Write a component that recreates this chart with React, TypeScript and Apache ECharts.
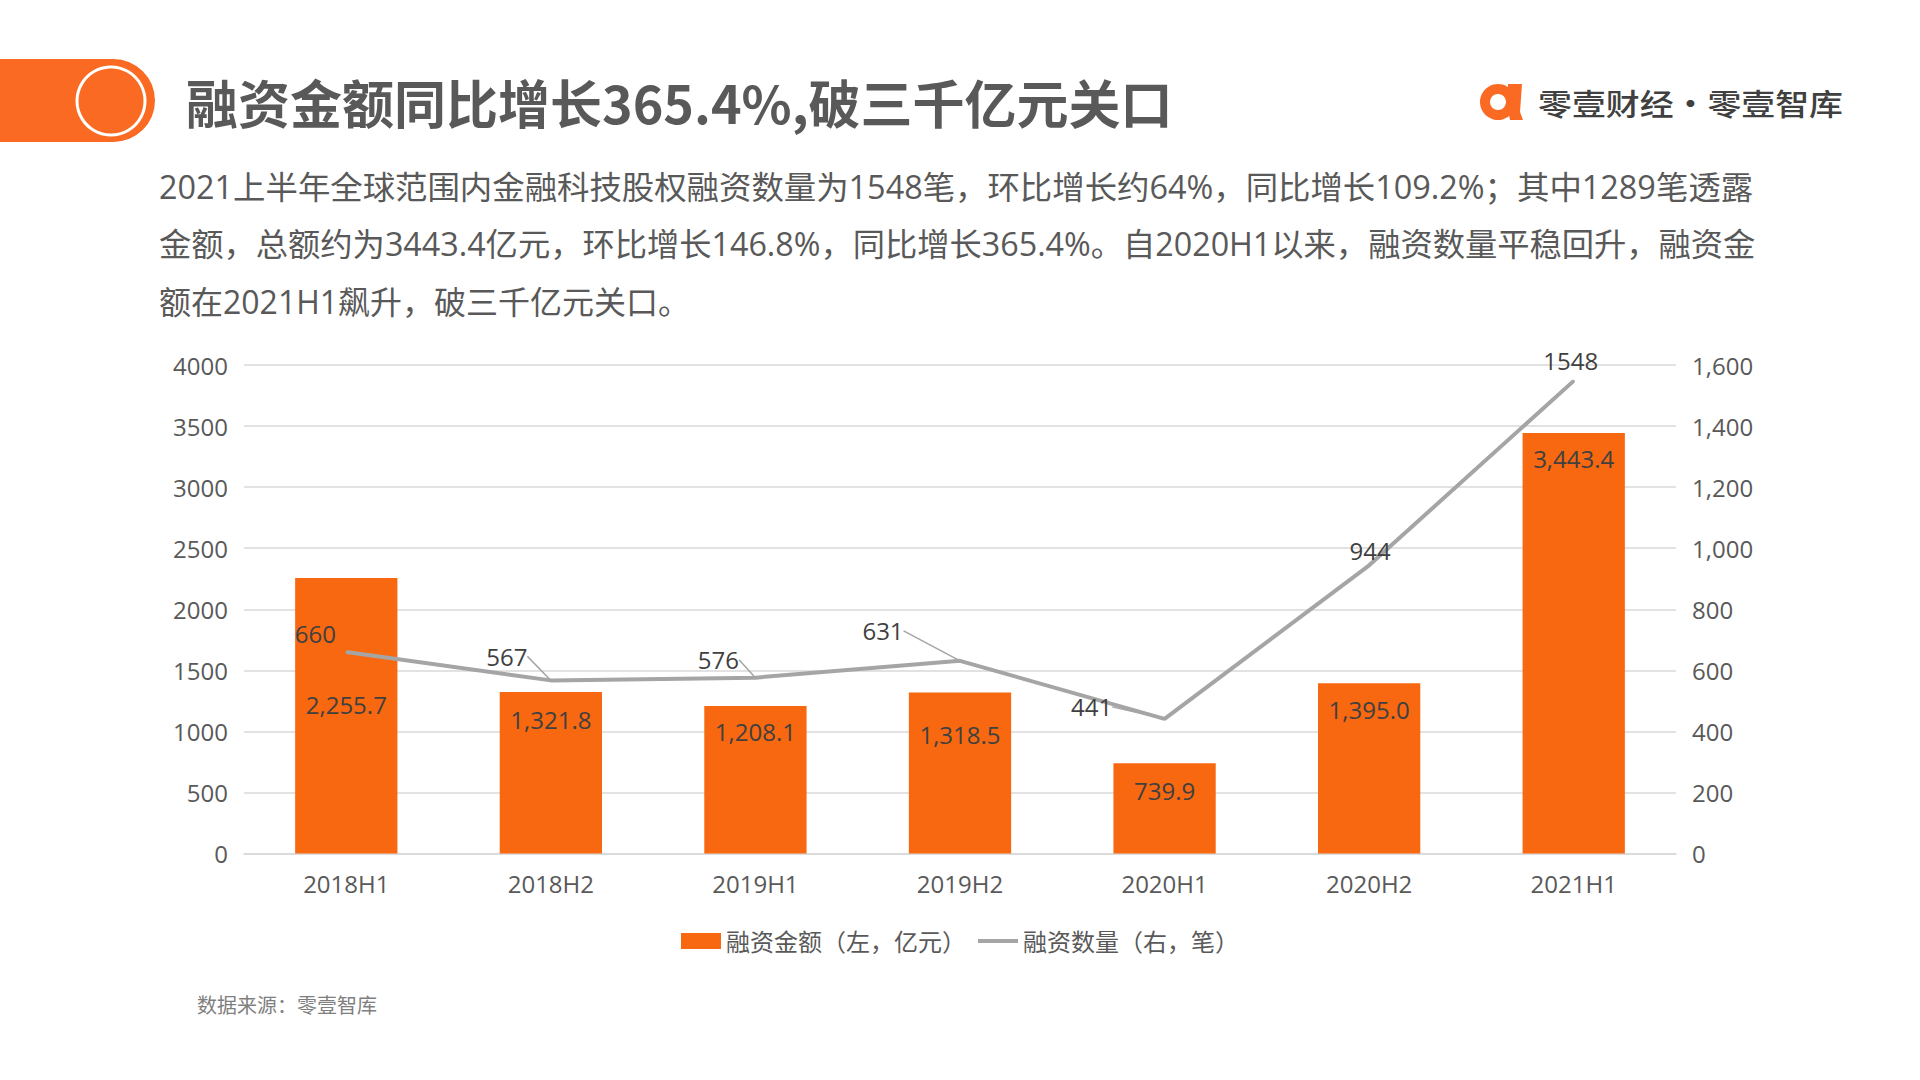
import React, { useEffect, useRef } from "react";
import * as echarts from "echarts";

// ---- data ----
const categories = ["2018H1", "2018H2", "2019H1", "2019H2", "2020H1", "2020H2", "2021H1"];
const amountValues = [2255.7, 1321.8, 1208.1, 1318.5, 739.9, 1395.0, 3443.4];
const countValues = [660, 567, 576, 631, 441, 944, 1548];
const amountName = "融资金额（左，亿元）";
const countName = "融资数量（右，笔）";

const leftAxis = { min: 0, max: 4000, interval: 500 };
const rightAxis = { min: 0, max: 1600, interval: 200 };

const titleText = "融资金额同比增长365.4%,破三千亿元关口";
const brandText = "零壹财经·零壹智库";
const paragraphLines = [
  "2021上半年全球范围内金融科技股权融资数量为1548笔，环比增长约64%，同比增长109.2%；其中1289笔透露",
  "金额，总额约为3443.4亿元，环比增长146.8%，同比增长365.4%。自2020H1以来，融资数量平稳回升，融资金",
  "额在2021H1飙升，破三千亿元关口。",
];
const sourceText = "数据来源：零壹智库";

// ---- label layout tweaks (style only) ----
const paragraphStretch = [1.013, 1.0085, 1];
const barLabelDistance = [114, 15, 14, 30, 15, 14, 14];
const countLabelShift = [
  [-31, -1],
  [-44, -6],
  [-37, 0],
  [-77, -12],
  [-73, 6],
  [1, 3],
  [-3, -2],
];
const countLabelLeader = [false, true, true, true, true, false, false];

const ORANGE = "#F76810";
const BANNER = "#FA6A22";
const GREY_LINE = "#A5A5A5";
const TEXT = "#595959";
const LABEL = "#404040";
const FONT = "'Open Sans', 'Noto Sans CJK SC', sans-serif";
const CJK = "'Noto Sans CJK SC', sans-serif";

export default function App() {
  const ref = useRef<HTMLDivElement>(null);

  useEffect(() => {
    if (!ref.current) return;
    const chart = echarts.init(ref.current, null, { renderer: "svg" });

    const fmt1 = (v: number) =>
      v.toLocaleString("en-US", { minimumFractionDigits: 1, maximumFractionDigits: 1 });

    const option: any = {
      animation: false,
      backgroundColor: "#ffffff",
      textStyle: { fontFamily: FONT },
      grid: { left: 244, right: 244, top: 365, bottom: 226.5 },
      legend: {
        left: "center",
        top: 924,
        itemWidth: 40,
        itemHeight: 16,
        itemGap: 12,
        itemStyle: { borderWidth: 0 },
        textStyle: { fontSize: 24, color: TEXT, fontFamily: FONT },
        data: [
          { name: amountName, icon: "rect" },
          { name: countName, icon: "path://M0,0L40,0L40,4L0,4Z" },
        ],
      },
      xAxis: {
        type: "category",
        data: categories,
        axisTick: { show: false },
        axisLine: { lineStyle: { color: "#D9D9D9", width: 1.5 } },
        axisLabel: { fontSize: 24, color: TEXT, margin: 18, fontFamily: FONT },
      },
      yAxis: [
        {
          type: "value",
          min: leftAxis.min,
          max: leftAxis.max,
          interval: leftAxis.interval,
          axisLabel: {
            fontSize: 24,
            color: TEXT,
            margin: 16,
            fontFamily: FONT,
            formatter: (v: number) => String(v),
          },
          splitLine: { lineStyle: { color: "#D9D9D9", width: 1.5 } },
          axisLine: { show: false },
          axisTick: { show: false },
        },
        {
          type: "value",
          min: rightAxis.min,
          max: rightAxis.max,
          interval: rightAxis.interval,
          axisLabel: {
            fontSize: 24,
            color: TEXT,
            margin: 16,
            fontFamily: FONT,
            formatter: (v: number) => v.toLocaleString("en-US"),
          },
          splitLine: { show: false },
          axisLine: { show: false },
          axisTick: { show: false },
        },
      ],
      series: [
        {
          name: amountName,
          type: "bar",
          yAxisIndex: 0,
          barWidth: "50%",
          itemStyle: { color: ORANGE },
          label: {
            show: true,
            position: "insideTop",
            fontSize: 24,
            color: LABEL,
            fontFamily: FONT,
            formatter: (p: any) => fmt1(Number(p.value)),
          },
          data: amountValues.map((v, i) => ({
            value: v,
            label: { distance: barLabelDistance[i] },
          })),
        },
        {
          name: countName,
          type: "line",
          yAxisIndex: 1,
          symbol: "circle",
          symbolSize: 2,
          showSymbol: true,
          color: GREY_LINE,
          itemStyle: { color: GREY_LINE },
          lineStyle: { color: GREY_LINE, width: 4 },
          label: {
            show: true,
            position: "top",
            fontSize: 24,
            color: LABEL,
            fontFamily: FONT,
          },
          labelLine: { show: false, lineStyle: { color: GREY_LINE, width: 1.5 } },
          labelLayout: (params: any) => {
            const s = countLabelShift[params.dataIndex] || [0, 0];
            return { dx: s[0], dy: s[1] };
          },
          data: countValues.map((v, i) => ({
            value: v,
            labelLine: { show: countLabelLeader[i] },
          })),
          z: 5,
        },
      ],
      graphic: [
        // header banner
        {
          type: "rect",
          shape: { x: 0, y: 59, width: 155, height: 83, r: [0, 42, 42, 0] },
          style: { fill: BANNER },
        },
        {
          type: "circle",
          shape: { cx: 111, cy: 101, r: 34 },
          style: { fill: BANNER, stroke: "#ffffff", lineWidth: 3 },
        },
        {
          type: "text",
          x: 186,
          y: 101,
          style: {
            text: titleText,
            fontSize: 52,
            fontWeight: "bold",
            fontFamily: CJK,
            fill: TEXT,
            verticalAlign: "middle",
          },
        },
        // brand logo
        {
          type: "ring",
          shape: { cx: 1498, cy: 102, r: 18, r0: 8 },
          style: { fill: BANNER },
        },
        {
          type: "polygon",
          shape: {
            points: [
              [1508, 84],
              [1522, 84],
              [1520, 112],
              [1523, 120],
              [1510, 120],
              [1508, 110],
            ],
          },
          style: { fill: BANNER },
        },
        {
          type: "text",
          x: 1538,
          y: 102,
          scaleX: 1.13,
          style: {
            text: brandText,
            fontSize: 30,
            fontWeight: 500,
            fontFamily: CJK,
            fill: "#404040",
            verticalAlign: "middle",
          },
        },
        // paragraph
        ...paragraphLines.map((t, i) => ({
          type: "text",
          x: 159,
          y: 187 + i * 57,
          scaleX: paragraphStretch[i],
          style: {
            text: t,
            fontSize: 32,
            fontFamily: FONT,
            fill: TEXT,
            verticalAlign: "middle",
          },
        })),
        // source
        {
          type: "text",
          x: 197,
          y: 1004,
          style: {
            text: sourceText,
            fontSize: 20,
            fontFamily: CJK,
            fill: "#7F7F7F",
            verticalAlign: "middle",
          },
        },
      ],
    };

    chart.setOption(option);
    return () => chart.dispose();
  }, []);

  return (
    <div
      ref={ref}
      style={{ position: "fixed", left: 0, top: 0, width: 1920, height: 1080, background: "#fff" }}
    />
  );
}
